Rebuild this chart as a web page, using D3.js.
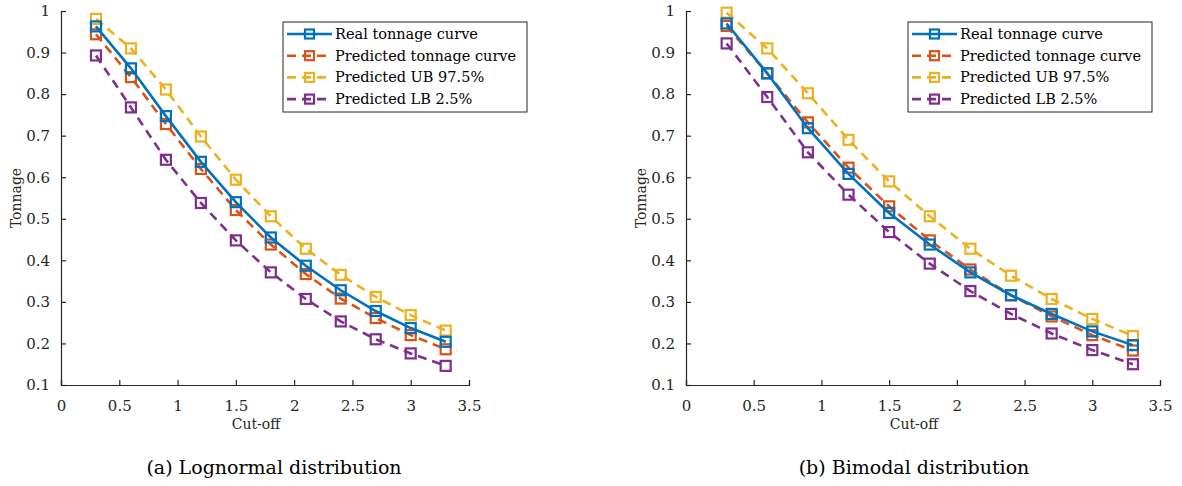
<!DOCTYPE html>
<html>
<head>
<meta charset="utf-8">
<script src="https://cdn.jsdelivr.net/npm/d3@7"></script>
<style>
  body { margin: 0; background: #fff; }
</style>
</head>
<body>
<svg id="chart" width="1182" height="486"></svg>
<script>
// cut-off grades (x values, shared by both panels)
const cutoff = [0.3, 0.6, 0.9, 1.2, 1.5, 1.8, 2.1, 2.4, 2.7, 3.0, 3.3];

const seriesNames = ["Real tonnage curve", "Predicted tonnage curve", "Predicted UB 97.5%", "Predicted LB 2.5%"];
const seriesColors = ["#0072BD", "#D95319", "#EDB120", "#7E2F8E"];

// (a) lognormal
const logReal = [0.963, 0.862, 0.747, 0.637, 0.540, 0.455, 0.387, 0.328, 0.278, 0.237, 0.204];
const logPred = [0.944, 0.841, 0.728, 0.620, 0.521, 0.438, 0.367, 0.308, 0.261, 0.220, 0.186];
const logUB   = [0.981, 0.910, 0.811, 0.698, 0.594, 0.506, 0.428, 0.365, 0.312, 0.268, 0.231];
const logLB   = [0.893, 0.768, 0.642, 0.538, 0.448, 0.371, 0.307, 0.253, 0.210, 0.176, 0.146];

// (b) bimodal
const bimReal = [0.970, 0.850, 0.718, 0.608, 0.514, 0.438, 0.371, 0.316, 0.271, 0.229, 0.196];
const bimPred = [0.964, 0.850, 0.732, 0.623, 0.530, 0.448, 0.378, 0.316, 0.265, 0.220, 0.183];
const bimUB   = [0.996, 0.910, 0.802, 0.690, 0.590, 0.506, 0.428, 0.363, 0.307, 0.259, 0.218];
const bimLB   = [0.922, 0.793, 0.660, 0.558, 0.468, 0.392, 0.326, 0.271, 0.224, 0.184, 0.150];

const xTicks = [0, 0.5, 1, 1.5, 2, 2.5, 3, 3.5];
const yTicks = [0.1, 0.2, 0.3, 0.4, 0.5, 0.6, 0.7, 0.8, 0.9, 1];

const panels = [
  { caption: "(a) Lognormal distribution", series: [logReal, logPred, logUB, logLB],
    left: 61, right: 469, legendX: 283, captionX: 274 },
  { caption: "(b) Bimodal distribution", series: [bimReal, bimPred, bimUB, bimLB],
    left: 686, right: 1160, legendX: 908, captionX: 914 }
];

const svg = d3.select("#chart");
const plotTop = 11, plotBottom = 385;
const axisColor = "#262626";
const serif = "DejaVu Serif";

function drawPanel(p) {
  const x = d3.scaleLinear().domain([0, 3.5]).range([p.left, p.right]);
  const y = d3.scaleLinear().domain([0.1, 1]).range([plotBottom, plotTop]);
  const g = svg.append("g");

  // axes, ticks pointing inward like matlab
  const xAxis = g.append("g").attr("transform", `translate(0,${plotBottom})`)
    .call(d3.axisBottom(x).tickValues(xTicks).tickSize(-5).tickPadding(12)
      .tickFormat(d => d));
  const yAxis = g.append("g").attr("transform", `translate(${p.left},0)`)
    .call(d3.axisLeft(y).tickValues(yTicks).tickSize(-5).tickPadding(11)
      .tickFormat(d => d));
  [xAxis, yAxis].forEach(a => {
    a.attr("font-family", serif).attr("font-size", 15);
    a.select(".domain").attr("stroke", axisColor).attr("stroke-width", 1.2);
    a.selectAll(".tick line").attr("stroke", axisColor).attr("stroke-width", 1.2);
    a.selectAll(".tick text").attr("fill", axisColor);
  });
  xAxis.selectAll(".tick text").attr("dy", "0.9em");

  g.append("text").attr("x", (p.left + p.right) / 2 - 9).attr("y", 429)
    .attr("text-anchor", "middle").attr("font-family", serif).attr("font-size", 14)
    .attr("fill", axisColor).text("Cut-off");
  g.append("text").attr("transform", `translate(${p.left - 40},${(plotTop + plotBottom) / 2}) rotate(-90)`)
    .attr("text-anchor", "middle").attr("font-family", serif).attr("font-size", 14)
    .attr("fill", axisColor).text("Tonnage");

  const line = d3.line().x((d, i) => x(cutoff[i])).y(d => y(d));

  // draw in reverse so the real curve sits on top
  d3.range(p.series.length).reverse().forEach(k => {
    const vals = p.series[k];
    const c = seriesColors[k];
    g.append("path").datum(vals)
      .attr("d", line).attr("fill", "none").attr("stroke", c)
      .attr("stroke-width", 2.6)
      .attr("stroke-dasharray", k === 0 ? null : "9,6");
    g.append("g").selectAll("rect").data(vals).join("rect")
      .attr("x", (d, i) => x(cutoff[i]) - 5)
      .attr("y", d => y(d) - 5)
      .attr("width", 10).attr("height", 10)
      .attr("fill", "none").attr("stroke", c).attr("stroke-width", 2.2);
  });

  // legend
  const lg = g.append("g").attr("transform", `translate(${p.legendX},22)`);
  lg.append("rect").attr("width", 244).attr("height", 90)
    .attr("fill", "#fff").attr("stroke", axisColor).attr("stroke-width", 1);
  seriesNames.forEach((name, k) => {
    const ly = 12 + k * 21.7;
    const c = seriesColors[k];
    lg.append("line").attr("x1", 4).attr("x2", 49).attr("y1", ly).attr("y2", ly)
      .attr("stroke", c).attr("stroke-width", 2.6)
      .attr("stroke-dasharray", k === 0 ? null : "9,6");
    lg.append("rect").attr("x", 22).attr("y", ly - 4.5).attr("width", 9).attr("height", 9)
      .attr("fill", "none").attr("stroke", c).attr("stroke-width", 2.2);
    lg.append("text").attr("x", 52).attr("y", ly + 5)
      .attr("font-family", serif).attr("font-size", 14.5).attr("fill", "#000").text(name);
  });

  svg.append("text").attr("x", p.captionX).attr("y", 474)
    .attr("text-anchor", "middle").attr("font-family", serif).attr("font-size", 19)
    .attr("fill", "#000").text(p.caption);
}

panels.forEach(drawPanel);
</script>
</body>
</html>
